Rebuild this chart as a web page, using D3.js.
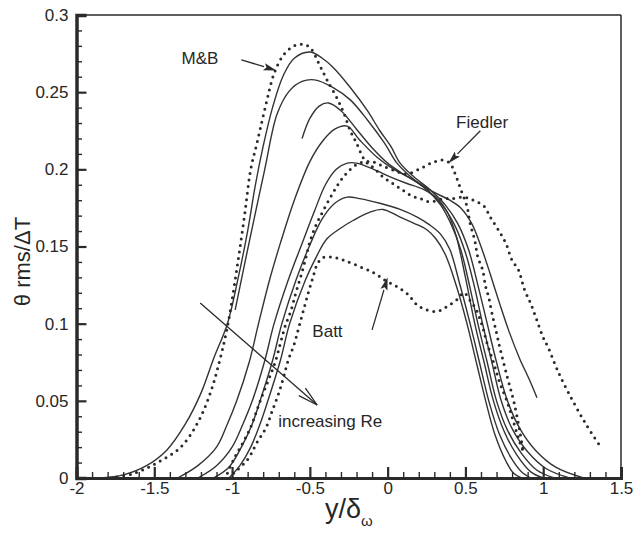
<!DOCTYPE html>
<html>
<head>
<meta charset="utf-8">
<script src="https://cdn.jsdelivr.net/npm/d3@7"></script>
<style>
  html, body { margin: 0; padding: 0; background: #ffffff; }
  svg { display: block; }
  text { font-family: "Liberation Sans", Arial, Helvetica, sans-serif; fill: #262626; }
</style>
</head>
<body>
<svg id="chart" width="633" height="534"></svg>
<script>
// Temperature fluctuation profiles across the mixing layer, theta_rms / dT vs y / delta_omega

// computed profiles (solid lines), widest / highest first
const profile1 = [[-1.85,0],[-1.7,0.002],[-1.55,0.008],[-1.42,0.018],[-1.3,0.035],[-1.2,0.055],[-1.12,0.077],[-1.03,0.1],[-0.96,0.13],[-0.9,0.16],[-0.85,0.19],[-0.8,0.215],[-0.74,0.24],[-0.67,0.261],[-0.6,0.272],[-0.5,0.276],[-0.42,0.272],[-0.35,0.266],[-0.24,0.253],[-0.13,0.238],[-0.05,0.225],[0.02,0.215],[0.08,0.204],[0.17,0.195],[0.27,0.187],[0.37,0.177],[0.45,0.165],[0.52,0.148],[0.58,0.125],[0.64,0.1],[0.7,0.075],[0.77,0.05],[0.85,0.032],[0.95,0.018],[1.08,0.007],[1.26,0]];
const profile2 = [[-0.98,0.109],[-0.9,0.148],[-0.79,0.2],[-0.71,0.236],[-0.63,0.251],[-0.55,0.257],[-0.47,0.258],[-0.35,0.253],[-0.24,0.245],[-0.13,0.232],[-0.02,0.217],[0.06,0.204],[0.15,0.195],[0.25,0.187],[0.35,0.177],[0.43,0.164],[0.5,0.146],[0.56,0.123],[0.61,0.1],[0.67,0.075],[0.73,0.05],[0.8,0.032],[0.9,0.017],[1.02,0.006],[1.17,0]];
const profile3 = [[-0.55,0.22],[-0.5,0.233],[-0.44,0.241],[-0.38,0.243],[-0.3,0.238],[-0.2,0.226],[-0.1,0.214],[0.0,0.204],[0.1,0.197],[0.2,0.191],[0.3,0.185],[0.4,0.18],[0.47,0.175],[0.54,0.165],[0.6,0.15],[0.66,0.132],[0.72,0.113],[0.78,0.095],[0.85,0.077],[0.91,0.064],[0.96,0.052]];
const profile4 = [[-1.35,0],[-1.22,0.008],[-1.1,0.02],[-1.03,0.035],[-0.97,0.05],[-0.89,0.075],[-0.83,0.1],[-0.76,0.128],[-0.69,0.152],[-0.6,0.18],[-0.5,0.205],[-0.42,0.218],[-0.34,0.226],[-0.26,0.228],[-0.18,0.219],[-0.07,0.208],[0.04,0.2],[0.15,0.194],[0.25,0.187],[0.34,0.177],[0.41,0.164],[0.47,0.148],[0.53,0.123],[0.58,0.1],[0.64,0.075],[0.7,0.05],[0.77,0.031],[0.86,0.016],[0.96,0.005],[1.07,0]];
const profile5 = [[-1.22,0],[-1.1,0.008],[-1.0,0.02],[-0.93,0.035],[-0.87,0.05],[-0.79,0.076],[-0.73,0.1],[-0.64,0.128],[-0.55,0.152],[-0.47,0.173],[-0.4,0.19],[-0.33,0.2],[-0.26,0.204],[-0.2,0.204],[-0.09,0.2],[0.02,0.195],[0.12,0.191],[0.23,0.187],[0.32,0.181],[0.38,0.173],[0.44,0.157],[0.5,0.13],[0.56,0.1],[0.62,0.075],[0.68,0.05],[0.75,0.03],[0.83,0.015],[0.92,0.004],[1.0,0]];
const profile6 = [[-1.12,0],[-1.02,0.007],[-0.94,0.02],[-0.87,0.035],[-0.82,0.05],[-0.74,0.076],[-0.68,0.1],[-0.59,0.128],[-0.5,0.151],[-0.42,0.168],[-0.34,0.178],[-0.26,0.182],[-0.18,0.181],[-0.05,0.178],[0.08,0.174],[0.19,0.169],[0.27,0.164],[0.34,0.158],[0.4,0.148],[0.46,0.127],[0.53,0.1],[0.59,0.075],[0.65,0.05],[0.72,0.028],[0.8,0.012],[0.86,0.004],[0.92,0]];
const profile7 = [[-1.02,0],[-0.95,0.008],[-0.88,0.02],[-0.82,0.035],[-0.77,0.05],[-0.69,0.076],[-0.63,0.1],[-0.53,0.128],[-0.46,0.143],[-0.39,0.155],[-0.3,0.162],[-0.22,0.167],[-0.12,0.172],[-0.03,0.174],[0.08,0.169],[0.17,0.165],[0.25,0.161],[0.31,0.155],[0.37,0.145],[0.44,0.125],[0.51,0.1],[0.57,0.075],[0.63,0.05],[0.69,0.028],[0.76,0.011],[0.81,0.003],[0.86,0]];

// measured profiles (dotted lines)
const mbData = [[-1.78,0],[-1.63,0.003],[-1.48,0.01],[-1.33,0.02],[-1.22,0.036],[-1.14,0.055],[-1.08,0.076],[-1.03,0.098],[-0.97,0.135],[-0.92,0.17],[-0.88,0.2],[-0.84,0.217],[-0.78,0.243],[-0.73,0.262],[-0.67,0.274],[-0.6,0.28],[-0.55,0.281],[-0.5,0.279],[-0.43,0.266],[-0.39,0.258],[-0.32,0.245],[-0.28,0.236],[-0.24,0.225],[-0.2,0.217],[-0.16,0.208],[-0.13,0.204],[-0.09,0.201],[-0.03,0.195],[0.03,0.191],[0.09,0.187],[0.15,0.183],[0.21,0.181],[0.27,0.179],[0.36,0.181],[0.42,0.181],[0.49,0.182],[0.55,0.18],[0.62,0.176],[0.66,0.169],[0.71,0.161],[0.76,0.152],[0.8,0.141],[0.84,0.135],[0.88,0.122],[0.92,0.113],[0.96,0.102],[1.0,0.091],[1.03,0.085],[1.1,0.068],[1.19,0.05],[1.28,0.034],[1.37,0.02]];
const fiedlerData = [[-1.03,0.003],[-0.99,0.012],[-0.93,0.023],[-0.88,0.033],[-0.84,0.044],[-0.8,0.055],[-0.76,0.065],[-0.72,0.076],[-0.69,0.087],[-0.66,0.098],[-0.62,0.109],[-0.59,0.12],[-0.56,0.13],[-0.53,0.141],[-0.5,0.153],[-0.46,0.164],[-0.41,0.174],[-0.35,0.185],[-0.3,0.193],[-0.24,0.2],[-0.18,0.204],[-0.1,0.205],[-0.03,0.202],[0.05,0.199],[0.12,0.197],[0.2,0.2],[0.28,0.204],[0.35,0.206],[0.4,0.204],[0.43,0.198],[0.47,0.187],[0.51,0.176],[0.53,0.165],[0.56,0.154],[0.58,0.143],[0.61,0.135],[0.63,0.124],[0.65,0.117],[0.67,0.107],[0.7,0.094],[0.72,0.085],[0.77,0.065],[0.81,0.05],[0.85,0.03],[0.87,0.018]];
const battData = [[-0.99,0.003],[-0.9,0.012],[-0.84,0.023],[-0.78,0.033],[-0.74,0.044],[-0.7,0.055],[-0.67,0.065],[-0.64,0.076],[-0.6,0.087],[-0.57,0.098],[-0.54,0.109],[-0.51,0.12],[-0.48,0.13],[-0.45,0.139],[-0.41,0.143],[-0.35,0.143],[-0.28,0.141],[-0.18,0.137],[-0.09,0.133],[-0.015,0.128],[0.06,0.124],[0.13,0.119],[0.19,0.112],[0.25,0.109],[0.32,0.108],[0.38,0.111],[0.45,0.116],[0.49,0.12],[0.53,0.115],[0.57,0.109],[0.61,0.098],[0.64,0.087],[0.68,0.075],[0.72,0.062],[0.77,0.049],[0.81,0.036],[0.85,0.023],[0.88,0.015]];

const solidProfiles = [profile1, profile2, profile3, profile4, profile5, profile6, profile7];
const dottedProfiles = [mbData, fiedlerData, battData];

// axis ticks
const xMajorTicks = [-2, -1.5, -1, -0.5, 0, 0.5, 1, 1.5];
const xTickLabels = ["-2", "-1.5", "-1", "-0.5", "0", "0.5", "1", "1.5"];
const yMajorTicks = [0, 0.05, 0.1, 0.15, 0.2, 0.25, 0.3];
const yTickLabels = ["0", "0.05", "0.1", "0.15", "0.2", "0.25", "0.3"];

// annotations: text anchor points and arrows, in data units
const labels = [
  { text: "M&B", x: -1.325, y: 0.268 },
  { text: "Fiedler", x: 0.44, y: 0.227 },
  { text: "Batt", x: -0.484, y: 0.0914 },
  { text: "increasing Re", x: -0.703, y: 0.033 }
];
const arrows = [
  { from: [-0.94, 0.271], to: [-0.715, 0.264], head: "filled" },
  { from: [0.596, 0.225], to: [0.39, 0.204], head: "filled" },
  { from: [-0.1, 0.096], to: [0.0, 0.13], head: "filled" },
  { from: [-1.205, 0.1134], to: [-0.453, 0.0473], head: "open" }
];

const svg = d3.select("#chart");
const ink = "#2a2a2a";

const x = d3.scaleLinear().domain([-2, 1.5]).range([76.5, 621]);
const y = d3.scaleLinear().domain([0, 0.3]).range([478, 15]);

const line = d3.line()
  .x(d => x(d[0]))
  .y(d => y(d[1]))
  .curve(d3.curveCatmullRom.alpha(0.5));

// solid profiles
svg.append("g").selectAll("path")
  .data(solidProfiles)
  .join("path")
  .attr("d", line)
  .attr("fill", "none")
  .attr("stroke", "#333")
  .attr("stroke-width", 1.4);

// dotted profiles
svg.append("g").selectAll("path")
  .data(dottedProfiles)
  .join("path")
  .attr("d", line)
  .attr("fill", "none")
  .attr("stroke", "#2a2a2a")
  .attr("stroke-width", 3)
  .attr("stroke-linecap", "round")
  .attr("stroke-dasharray", "0 6.6");

// frame: heavy left and bottom axes, thin top and right
svg.append("line").attr("x1", x(-2)).attr("x2", x(1.5)).attr("y1", y(0.3)).attr("y2", y(0.3))
  .attr("stroke", ink).attr("stroke-width", 1.5);
svg.append("line").attr("x1", x(1.5)).attr("x2", x(1.5)).attr("y1", y(0.3)).attr("y2", y(0))
  .attr("stroke", ink).attr("stroke-width", 1.5);

// y axis
const yMinor = d3.range(0, 0.3001, 0.01).filter(v => Math.abs(v / 0.05 - Math.round(v / 0.05)) > 1e-6);
const yAxisMinor = d3.axisLeft(y).tickValues(yMinor).tickSize(-5.5).tickFormat("");
const yAxis = d3.axisLeft(y).tickValues(yMajorTicks).tickSize(-10).tickPadding(8)
  .tickFormat((d, i) => yTickLabels[i]);

const gyMinor = svg.append("g").attr("transform", `translate(${x(-2)},0)`).call(yAxisMinor);
gyMinor.select(".domain").remove();
gyMinor.selectAll(".tick line").attr("stroke", ink).attr("stroke-width", 1.4);

const gy = svg.append("g").attr("transform", `translate(${x(-2)},0)`).call(yAxis);
gy.select(".domain").attr("stroke", ink).attr("stroke-width", 3.5);
gy.selectAll(".tick line").attr("stroke", ink).attr("stroke-width", 2.2);
gy.selectAll(".tick text").attr("font-size", 17).attr("fill", ink)
  .attr("font-family", '"Liberation Sans", Arial, sans-serif');

// x axis
const xMinor = d3.range(-2, 1.5001, 0.1).filter(v => Math.abs(v / 0.5 - Math.round(v / 0.5)) > 1e-6);
const xAxisMinor = d3.axisBottom(x).tickValues(xMinor).tickSize(-6).tickFormat("");
const xAxis = d3.axisBottom(x).tickValues(xMajorTicks).tickSize(-11).tickPadding(4)
  .tickFormat((d, i) => xTickLabels[i]);

const gxMinor = svg.append("g").attr("transform", `translate(0,${y(0)})`).call(xAxisMinor);
gxMinor.select(".domain").remove();
gxMinor.selectAll(".tick line").attr("stroke", ink).attr("stroke-width", 1.4);

const gx = svg.append("g").attr("transform", `translate(0,${y(0)})`).call(xAxis);
gx.select(".domain").attr("stroke", ink).attr("stroke-width", 3);
gx.selectAll(".tick line").attr("stroke", ink).attr("stroke-width", 2.2);
gx.selectAll(".tick text").attr("font-size", 17).attr("fill", ink)
  .attr("font-family", '"Liberation Sans", Arial, sans-serif');

// axis titles
svg.append("text")
  .attr("transform", `translate(30,${(y(0) + y(0.3)) / 2 + 15}) rotate(-90)`)
  .attr("text-anchor", "middle")
  .attr("font-size", 22)
  .text("θ rms/ΔT");

const xTitle = svg.append("text")
  .attr("x", (x(-2) + x(1.5)) / 2)
  .attr("y", 518)
  .attr("text-anchor", "middle")
  .attr("font-size", 27);
xTitle.append("tspan").text("y/δ");
xTitle.append("tspan").attr("font-size", 15).attr("dy", 8).text("ω");

// annotation labels
svg.append("g").selectAll("text")
  .data(labels)
  .join("text")
  .attr("x", d => x(d.x))
  .attr("y", d => y(d.y))
  .attr("font-size", 17)
  .text(d => d.text);

// annotation arrows
const ag = svg.append("g");
arrows.forEach(a => {
  const x1 = x(a.from[0]), y1 = y(a.from[1]);
  const x2 = x(a.to[0]), y2 = y(a.to[1]);
  const ang = Math.atan2(y2 - y1, x2 - x1);
  const len = a.head === "filled" ? 13 : 20;
  const half = a.head === "filled" ? 3.6 : 5;
  const bx = x2 - len * Math.cos(ang), by = y2 - len * Math.sin(ang);
  const px = -Math.sin(ang) * half, py = Math.cos(ang) * half;
  if (a.head === "filled") {
    ag.append("line").attr("x1", x1).attr("y1", y1).attr("x2", bx).attr("y2", by)
      .attr("stroke", ink).attr("stroke-width", 1.3);
    ag.append("path")
      .attr("d", `M${x2},${y2}L${bx + px},${by + py}L${bx + len * 0.2 * Math.cos(ang)},${by + len * 0.2 * Math.sin(ang)}L${bx - px},${by - py}Z`)
      .attr("fill", ink);
  } else {
    ag.append("line").attr("x1", x1).attr("y1", y1).attr("x2", x2).attr("y2", y2)
      .attr("stroke", ink).attr("stroke-width", 1.3);
    ag.append("path")
      .attr("d", `M${bx + px},${by + py}L${x2},${y2}L${bx - px},${by - py}`)
      .attr("fill", "none").attr("stroke", ink).attr("stroke-width", 1.3);
  }
});
</script>
</body>
</html>
